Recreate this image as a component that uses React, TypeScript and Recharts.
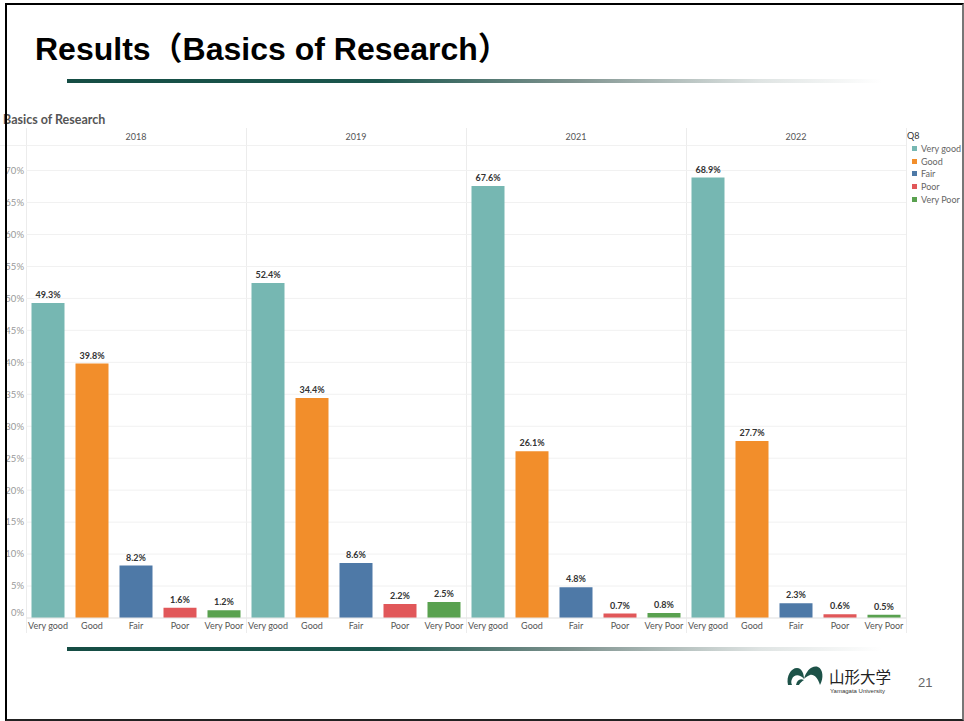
import React from "react";
import { BarChart, Bar, XAxis, YAxis, CartesianGrid, Cell, LabelList } from "recharts";

const years = ["2018", "2019", "2021", "2022"];
const categories = ["Very good", "Good", "Fair", "Poor", "Very Poor"];
const colors = ["#76b7b2", "#f28e2b", "#4e79a7", "#e15759", "#59a14f"];
const values2018 = [49.3, 39.8, 8.2, 1.6, 1.2];
const values2019 = [52.4, 34.4, 8.6, 2.2, 2.5];
const values2021 = [67.6, 26.1, 4.8, 0.7, 0.8];
const values2022 = [68.9, 27.7, 2.3, 0.6, 0.5];
const yTicks = [0, 5, 10, 15, 20, 25, 30, 35, 40, 45, 50, 55, 60, 65, 70];

const panelValues = [values2018, values2019, values2021, values2022];

const FONT = "Lato, 'Open Sans', sans-serif";
const PLOT_TOP = 145;
const AXIS_W = 26;
const PANEL_W = 220;
const PLOT_H = 473;
const XAXIS_H = 18;
const GRAD = "linear-gradient(to right, #154d44 0%, #1b564d 38%, #7f938f 62%, #dfe4e3 85%, #ffffff 100%)";

// 0% label sits a bit higher than its gridline, like the original
function YTick(props: any) {
    const { x, y, payload } = props;
    const shift = payload.value === 0 ? -5 : 0;
    return (
        <text x={x} y={y + shift} dy="0.355em" textAnchor="end" fontSize={9.5} fill="#999" fontFamily={FONT}>
            {`${payload.value}%`}
        </text>
    );
}

function Panel({ values, withAxis }: { values: number[]; withAxis: boolean }) {
    const data = categories.map((c, i) => ({ cat: c, value: values[i] }));
    const width = withAxis ? PANEL_W + AXIS_W : PANEL_W;
    return (
        <BarChart
            width={width}
            height={PLOT_H + XAXIS_H}
            data={data}
            margin={{ top: 0, right: 0, bottom: 0, left: 0 }}
            barCategoryGap="12.5%"
        >
            <CartesianGrid horizontal vertical={false} stroke="#f1f1f1" />
            <XAxis
                dataKey="cat"
                interval={0}
                height={XAXIS_H}
                tickLine={false}
                tickSize={0}
                tickMargin={5}
                axisLine={{ stroke: "#e6e6e6" }}
                tick={{ fontSize: 9, fill: "#555", fontFamily: FONT }}
            />
            <YAxis
                hide={!withAxis}
                width={AXIS_W}
                domain={[0, 74]}
                ticks={yTicks}
                allowDataOverflow
                axisLine={false}
                tickLine={false}
                tickSize={0}
                tickMargin={2}
                tick={<YTick />}
            />
            <Bar dataKey="value" isAnimationActive={false}>
                {data.map((d, i) => (
                    <Cell key={d.cat} fill={colors[i]} />
                ))}
                <LabelList
                    dataKey="value"
                    position="top"
                    offset={5}
                    formatter={(v: any) => `${Number(v).toFixed(1)}%`}
                    style={{ fontSize: 9, fontWeight: 700, fill: "#333", fontFamily: FONT }}
                />
            </Bar>
        </BarChart>
    );
}

function Logo() {
    return (
        <svg width={40} height={24} viewBox="0 0 40 24" style={{ position: "absolute", left: 785, top: 664 }}>
            <path d="M3 21 C1 12 6 4 12 4 C17 4 19 10 19 15 C15 10 9 10 7 15 C6 17 6 19 7 21 Z" fill="#1d5248" />
            <path d="M19 15 C21 7 27 1 33 3 C38 5 39 14 35 21 C33 14 29 10 25 11 C22 12 20 14 19 15 Z" fill="#1d5248" />
            <path d="M11 21 C12 16 15 14 19 16 C17 17 15 19 14 21 Z" fill="#1d5248" />
        </svg>
    );
}

export default function App() {
    return (
        <div
            style={{
                position: "absolute",
                left: 0,
                top: 0,
                width: 964,
                height: 721,
                background: "#fff",
                overflow: "hidden",
                fontFamily: FONT,
            }}
        >
            {/* slide title */}
            <div
                style={{
                    position: "absolute",
                    left: 35,
                    top: 33,
                    fontFamily: "'Liberation Sans', Arial, 'Noto Sans CJK JP', sans-serif",
                    fontWeight: 700,
                    fontSize: 32,
                    lineHeight: "32px",
                    color: "#000",
                    whiteSpace: "nowrap",
                }}
            >
                Results（Basics of Research）
            </div>
            <div style={{ position: "absolute", left: 67, top: 79, width: 815, height: 4, background: GRAD }} />

            {/* chart title */}
            <div
                style={{
                    position: "absolute",
                    left: 3,
                    top: 112,
                    fontSize: 12.5,
                    fontWeight: 700,
                    color: "#555",
                    whiteSpace: "nowrap",
                }}
            >
                Basics of Research
            </div>

            {/* year headers and panel separators */}
            {years.map((y, i) => (
                <div
                    key={y}
                    style={{
                        position: "absolute",
                        left: AXIS_W + PANEL_W * i,
                        top: 129,
                        width: PANEL_W,
                        height: 16,
                        lineHeight: "16px",
                        textAlign: "center",
                        fontSize: 9,
                        color: "#555",
                    }}
                >
                    {y}
                </div>
            ))}
            <div style={{ position: "absolute", left: 0, top: 145, width: 906, height: 1, background: "#f0f0f0" }} />
            {[0, 1, 2, 3, 4].map((i) => (
                <div
                    key={i}
                    style={{
                        position: "absolute",
                        left: AXIS_W + PANEL_W * i,
                        top: 128,
                        width: 1,
                        height: 505,
                        background: "#ececec",
                    }}
                />
            ))}

            {/* chart panels */}
            {panelValues.map((vals, i) => (
                <div
                    key={years[i]}
                    style={{
                        position: "absolute",
                        left: i === 0 ? 0 : AXIS_W + PANEL_W * i,
                        top: PLOT_TOP,
                    }}
                >
                    <Panel values={vals} withAxis={i === 0} />
                </div>
            ))}

            {/* legend */}
            <div style={{ position: "absolute", left: 907, top: 130, width: 55, overflow: "hidden", fontSize: 9 }}>
                <div style={{ color: "#333", height: 12, lineHeight: "12px" }}>Q8</div>
                {categories.map((c, i) => (
                    <div
                        key={c}
                        style={{ display: "flex", alignItems: "center", height: 12.7, whiteSpace: "nowrap", color: "#666" }}
                    >
                        <div style={{ width: 5, height: 5, background: colors[i], marginLeft: 5, marginRight: 4 }} />
                        {c}
                    </div>
                ))}
            </div>

            {/* footer */}
            <div style={{ position: "absolute", left: 67, top: 647, width: 815, height: 4, background: GRAD }} />
            <Logo />
            <div
                style={{
                    position: "absolute",
                    left: 829,
                    top: 667,
                    fontFamily: "'Noto Sans CJK JP', sans-serif",
                    fontSize: 15.5,
                    lineHeight: "18px",
                    color: "#222",
                    whiteSpace: "nowrap",
                }}
            >
                山形大学
            </div>
            <div
                style={{
                    position: "absolute",
                    left: 830,
                    top: 688,
                    fontFamily: "'Liberation Sans', Arial, sans-serif",
                    fontSize: 6,
                    color: "#333",
                    whiteSpace: "nowrap",
                }}
            >
                Yamagata University
            </div>
            <div
                style={{
                    position: "absolute",
                    left: 918,
                    top: 675,
                    fontFamily: "'Liberation Sans', Arial, sans-serif",
                    fontSize: 13,
                    color: "#666",
                }}
            >
                21
            </div>

            {/* slide frame */}
            <div
                style={{
                    position: "absolute",
                    left: 5,
                    top: 3,
                    width: 955,
                    height: 714,
                    borderLeft: "2px solid #000",
                    borderTop: "2px solid #000",
                    borderRight: "2px solid #777",
                    borderBottom: "2px solid #222",
                    pointerEvents: "none",
                }}
            />
        </div>
    );
}
